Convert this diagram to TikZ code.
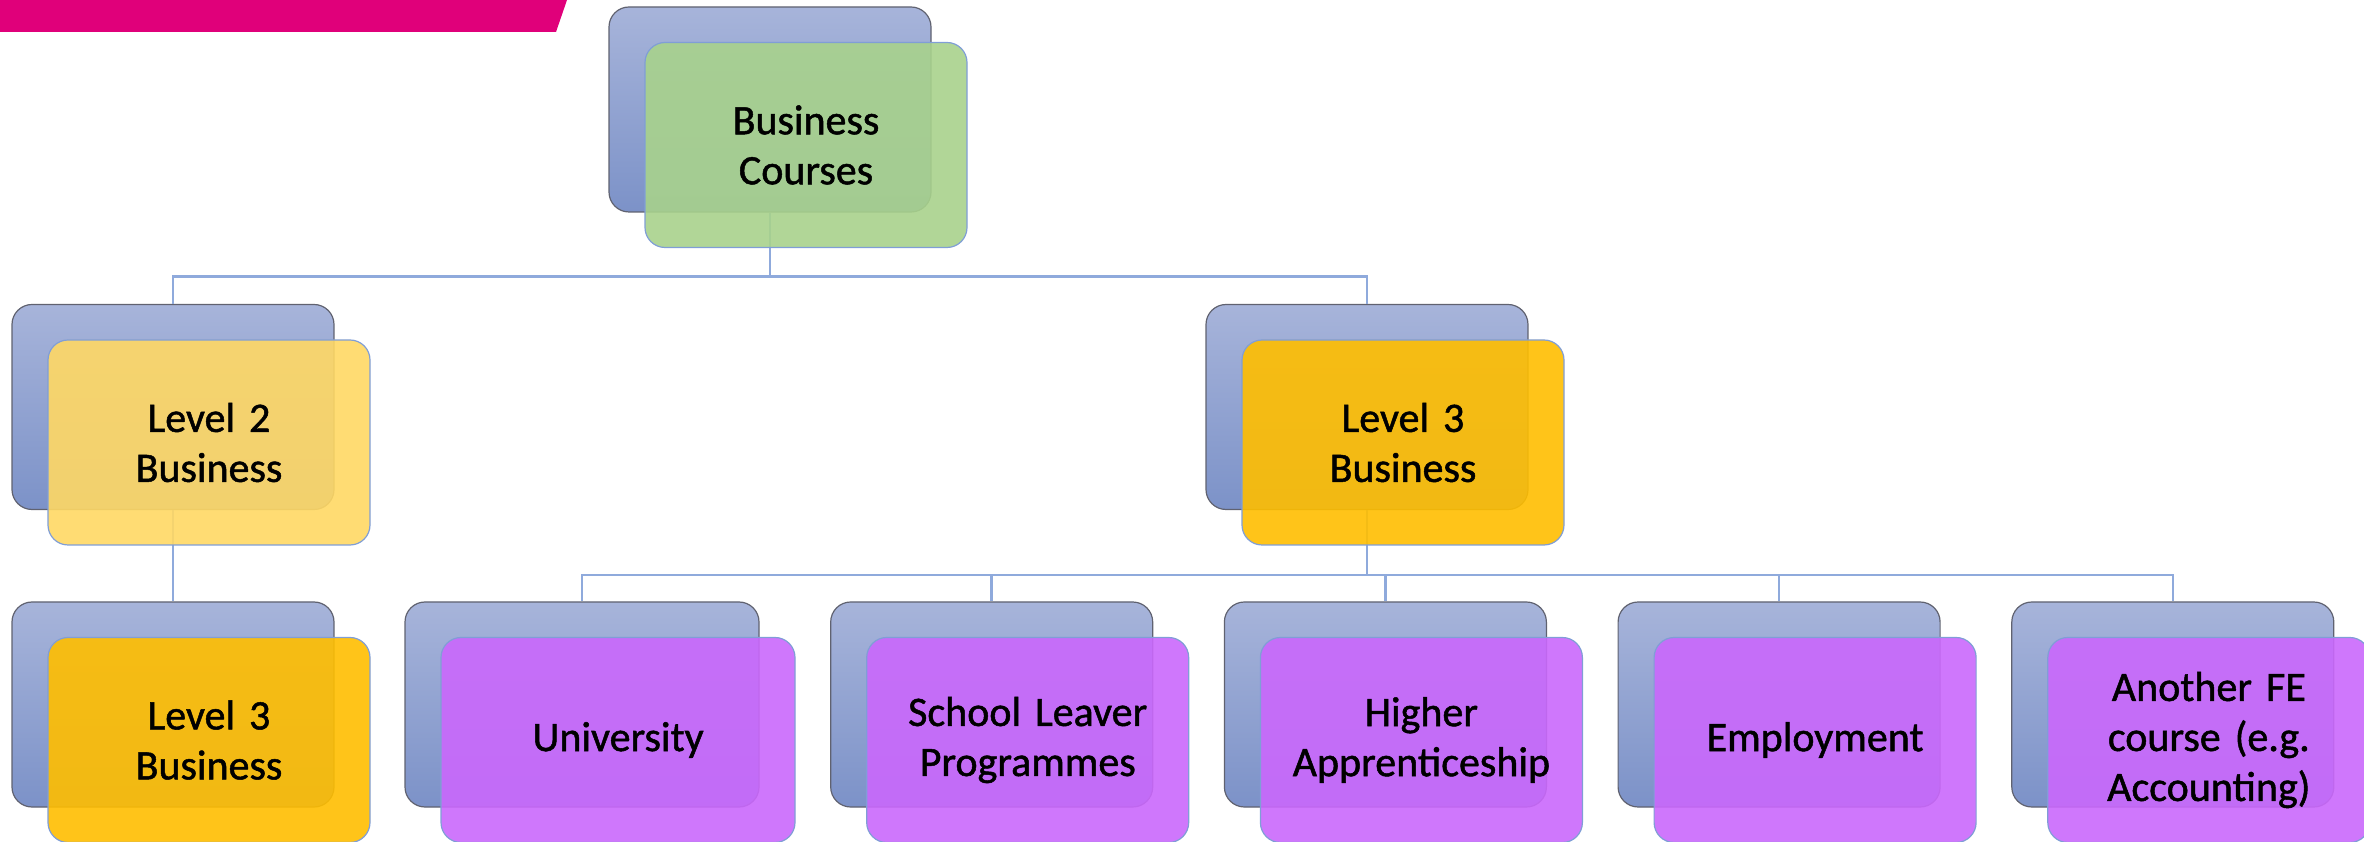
\documentclass[tikz,border=0pt]{standalone}
\usepackage{fontspec}
\setmainfont[FakeBold=1.2,WordSpace=0.8]{Carlito}
\usepackage{xcolor}
\usepackage{tikz}
\usetikzlibrary{positioning}

\definecolor{barmag}{RGB}{224,0,122}
\definecolor{backtop}{RGB}{167,180,218}
\definecolor{backbot}{RGB}{124,146,200}
\definecolor{backline}{RGB}{96,98,112}
\definecolor{frontline}{RGB}{128,158,214}
\definecolor{linkblue}{RGB}{143,170,220}
\definecolor{busgreen}{RGB}{168,210,140}
\definecolor{lighty}{RGB}{255,216,100}
\definecolor{goldy}{RGB}{255,190,0}
\definecolor{purp}{RGB}{202,104,252}

\begin{document}
\begin{tikzpicture}[x=1pt,y=1pt,
node distance=297.5pt]

\tikzstyle{backbox}=[rectangle, rounded corners=20pt, minimum width=322pt, 
minimum height=205pt, inner sep=0pt, draw=backline, line width=1.2pt,
top color=backtop, bottom color=backbot]

\tikzstyle{frontbox}=[rectangle, rounded corners=20pt, text width=300pt, 
inner xsep=11pt, inner ysep=0pt, minimum height=205pt, align=center, 
draw=frontline, line width=1.2pt, fill opacity=0.9, text opacity=1,
xshift=36pt, yshift=-35.5pt, font=\fontsize{42}{50}\selectfont]

\tikzstyle{link}=[draw=linkblue, line width=2.5pt]

\useasboundingbox (0,0) rectangle (2364,841);

%banner
\fill[barmag] (0,841) -- (567,841) -- (556,809) -- (0,809) -- cycle;

%back boxes
\node[backbox]
(cbusback) at (770,731.5)
{};

\node[backbox]
(lvltwoback) [below of=cbusback, xshift=-597pt]
{};

\node[backbox]
(lvlthreeback) [below of=cbusback, xshift=597pt]
{};

\node[backbox]
(nextback) [below of=lvltwoback]
{};

\node[backbox, minimum width=354pt]
(uniback) [below of=lvlthreeback, xshift=-785pt]
{};

\node[backbox]
(slpback) [right=70.5pt of uniback]
{};

\node[backbox]
(happback) [right=70.5pt of slpback]
{};

\node[backbox]
(empback) [right=70.5pt of happback]
{};

\node[backbox]
(feback) [right=70.5pt of empback]
{};

%connectors
\draw[link] (cbusback.south) -- ++(0,-64) -| (lvltwoback.north);
\draw[link] (cbusback.south) -- ++(0,-64) -| (lvlthreeback.north);
\draw[link] (lvltwoback.south) -- (nextback.north);
\foreach \kid in {uniback,slpback,happback,empback,feback}
	\draw[link] (lvlthreeback.south) -- ++(0,-65) -| (\kid.north);

%front boxes
\node[frontbox, fill=busgreen]
(cbus) at (cbusback)
{Business\\Courses};

\node[frontbox, fill=lighty]
(lvltwo) at (lvltwoback)
{Level 2\\Business};

\node[frontbox, fill=goldy]
(lvlthree) at (lvlthreeback)
{Level 3\\Business};

\node[frontbox, fill=goldy]
(next) at (nextback)
{Level 3\\Business};

\node[frontbox, fill=purp, text width=332pt]
(uni) at (uniback)
{University};

\node[frontbox, fill=purp]
(slp) at (slpback)
{School Leaver\\Programmes};

\node[frontbox, fill=purp]
(happ) at (happback)
{Higher\\Apprenticeship};

\node[frontbox, fill=purp]
(emp) at (empback)
{Employment};

\node[frontbox, fill=purp]
(fe) at (feback)
{Another FE\\course (e.g.\\Accounting)};

\end{tikzpicture}
\end{document}
